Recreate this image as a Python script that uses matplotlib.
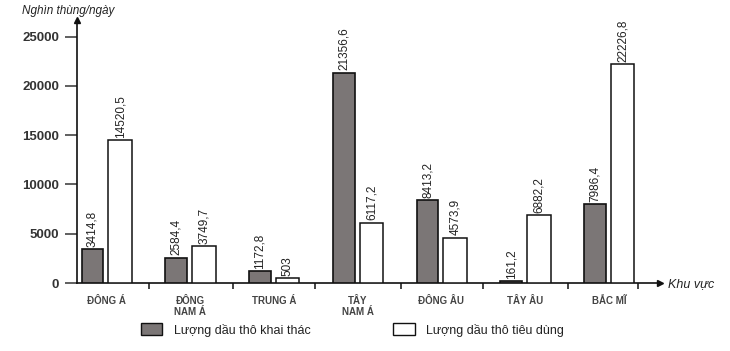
import matplotlib
matplotlib.use("Agg")
import matplotlib.pyplot as plt
from matplotlib.patches import Patch
import numpy as np

categories = ["ĐÔNG Á", "ĐÔNG\nNAM Á", "TRUNG Á", "TÂY\nNAM Á", "ĐÔNG ÂU", "TÂY ÂU", "BẮC MĨ"]
khai_thac = [3414.8, 2584.4, 1172.8, 21356.6, 8413.2, 161.2, 7986.4]
tieu_dung = [14520.5, 3749.7, 503, 6117.2, 4573.9, 6882.2, 22226.8]
khai_thac_labels = ["3414,8", "2584,4", "1172,8", "21356,6", "8413,2", "161,2", "7986,4"]
tieu_dung_labels = ["14520,5", "3749,7", "503", "6117,2", "4573,9", "6882,2", "22226,8"]
yticks = [0, 5000, 10000, 15000, 20000, 25000]
series_names = ["Lượng dầu thô khai thác", "Lượng dầu thô tiêu dùng"]

plt.rcParams['font.family'] = ['Liberation Sans', 'DejaVu Sans']
W, H = 730, 351
fig = plt.figure(figsize=(W / 100, H / 100), dpi=100)
x0, x1, y0, y1 = 77, 660, 283, 20
ax = fig.add_axes([x0 / W, (H - y0) / H, (x1 - x0) / W, (y0 - y1) / H])

x = np.arange(len(categories))
bw = 0.26
off = 0.165
dark = '#7b7676'
ax.bar(x - off, khai_thac, bw, color=dark, edgecolor='#111111', linewidth=1.2, zorder=3)
ax.bar(x + off, tieu_dung, bw + 0.02, color='white', edgecolor='#111111', linewidth=1.1, zorder=3)

cond = ['Liberation Sans Narrow', 'Liberation Sans', 'DejaVu Sans']
for xi, v, s in zip(x - off, khai_thac, khai_thac_labels):
    ax.text(xi, v + 250, s, rotation=90, ha='center', va='bottom', fontsize=8.5,
            family=cond, color='#222222')
for xi, v, s in zip(x + off, tieu_dung, tieu_dung_labels):
    ax.text(xi, v + 250, s, rotation=90, ha='center', va='bottom', fontsize=8.5,
            family=cond, color='#222222')

ax.set_xlim(-0.35, 6.61)
ax.set_ylim(0, 26700)
for s in ['top', 'right']:
    ax.spines[s].set_visible(False)
for s in ['left', 'bottom']:
    ax.spines[s].set_linewidth(1.2)
    ax.spines[s].set_color('#111111')

ax.set_yticks(yticks)
ax.set_yticklabels([str(t) for t in yticks], fontsize=9.5, color='#333333', fontweight='bold')
ax.tick_params(axis='y', length=9, width=1.2, pad=4, color='#444444')

ax.set_xticks(x)
ax.set_xticklabels(categories, fontsize=7, color='#444444', linespacing=1.15, fontweight='bold')
ax.tick_params(axis='x', which='major', length=0, pad=9)
ax.set_xticks([0.51, 1.51, 2.49, 3.52, 4.5, 5.51, 6.35], minor=True)
ax.tick_params(axis='x', which='minor', length=4, width=1.2, direction='out', color='#222222')

# arrows
ax.plot(1, 0, marker='>', color='#111111', markersize=5, transform=ax.transAxes, clip_on=False)
ax.plot(0, 1, marker='^', color='#111111', markersize=5, transform=ax.transAxes, clip_on=False)

fig.text(668 / W, 1 - 284 / H, "Khu vực", fontsize=9, style='italic', ha='left', va='center', color='#222222')
fig.text(22 / W, 1 - 11 / H, "Nghìn thùng/ngày", fontsize=8.5, style='italic', ha='left', va='center', color='#222222')

handles = [Patch(facecolor=dark, edgecolor='#111111', linewidth=1.0),
           Patch(facecolor='white', edgecolor='#111111', linewidth=1.0)]
leg = fig.legend(handles, series_names, loc='center left', bbox_to_anchor=(141 / W, 1 - 330 / H),
                 ncol=2, frameon=False, fontsize=9, handlelength=1.7, handleheight=1.1,
                 handletextpad=0.95, columnspacing=6.6, borderpad=0, borderaxespad=0)
for t in leg.get_texts():
    t.set_color('#222222')

fig.savefig("out.png", dpi=100)
